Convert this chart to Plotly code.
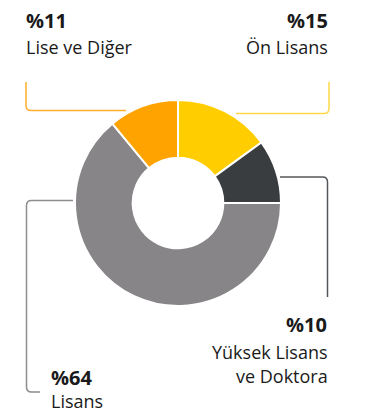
import plotly.graph_objects as go

# Education level distribution (share of staff, %)
categories = ["Ön Lisans", "Yüksek Lisans ve Doktora", "Lisans", "Lise ve Diğer"]
values = [15, 10, 64, 11]
colors = ["#FFCD00", "#3A3D40", "#878587", "#FFA300"]
line_colors = ["#FFD84A", "#55585B", "#8F8D8F", "#FFAE2E"]

W, H = 368, 417
FONT = "Open Sans"


def px(x):
    return x / W


def py(y):
    return 1 - y / H


def path(points, r=5):
    """Polyline through pixel points with rounded corners of radius r."""
    out = []
    n = len(points)
    for i, (x, y) in enumerate(points):
        if i == 0:
            out.append(f"M {px(x)} {py(y)}")
        elif i == n - 1:
            out.append(f"L {px(x)} {py(y)}")
        else:
            x0, y0 = points[i - 1]
            x1, y1 = points[i + 1]

            def toward(ax, ay, bx, by):
                dx, dy = bx - ax, by - ay
                d = (dx * dx + dy * dy) ** 0.5
                return ax + dx / d * r, ay + dy / d * r

            sx, sy = toward(x, y, x0, y0)
            ex, ey = toward(x, y, x1, y1)
            out.append(f"L {px(sx)} {py(sy)}")
            out.append(f"Q {px(x)} {py(y)} {px(ex)} {py(ey)}")
    return " ".join(out)


fig = go.Figure(
    go.Pie(
        labels=categories,
        values=values,
        sort=False,
        direction="clockwise",
        rotation=0,
        hole=0.44,
        marker=dict(colors=colors, line=dict(color="white", width=2)),
        textinfo="none",
        hoverinfo="label+percent",
        domain=dict(x=[px(75), px(281)], y=[py(306), py(100)]),
        showlegend=False,
    )
)

# Leader lines from the ring to each label
leaders = [
    ([(26, 82), (26, 110.5), (126, 110.5)], line_colors[3]),
    ([(329, 82), (329, 113.5), (236, 113.5)], line_colors[0]),
    ([(280, 177), (327.5, 177), (327.5, 297)], line_colors[1]),
    ([(73, 200.5), (26.5, 200.5), (26.5, 392), (40, 392)], line_colors[2]),
]
shapes = [
    dict(type="path", xref="paper", yref="paper", path=path(pts),
         line=dict(color=c, width=1.5), layer="below")
    for pts, c in leaders
]

pct = {c: f"%{v}" for c, v in zip(categories, values)}

annotations = []


def label(x, y, text, anchor, bold=False):
    annotations.append(dict(
        x=px(x), y=py(y), xref="paper", yref="paper", text=text,
        showarrow=False, xanchor=anchor, yanchor="middle", align=anchor,
        font=dict(family=FONT, size=20 if bold else 18, color="#1A1A1A"),
    ))


label(24, 20, f"<b>{pct['Lise ve Diğer']}</b>", "left", True)
label(24, 47, "Lise ve Diğer", "left")
label(330, 20, f"<b>{pct['Ön Lisans']}</b>", "right", True)
label(330, 47, "Ön Lisans", "right")
label(329, 324, f"<b>{pct['Yüksek Lisans ve Doktora']}</b>", "right", True)
label(330, 352, "Yüksek Lisans", "right")
label(330, 376, "ve Doktora", "right")
label(49, 377, f"<b>{pct['Lisans']}</b>", "left", True)
label(49, 401, "Lisans", "left")

fig.update_layout(
    width=W, height=H,
    margin=dict(l=0, r=0, t=0, b=0),
    paper_bgcolor="white", plot_bgcolor="white",
    shapes=shapes, annotations=annotations,
)

fig.write_html("out.html")
